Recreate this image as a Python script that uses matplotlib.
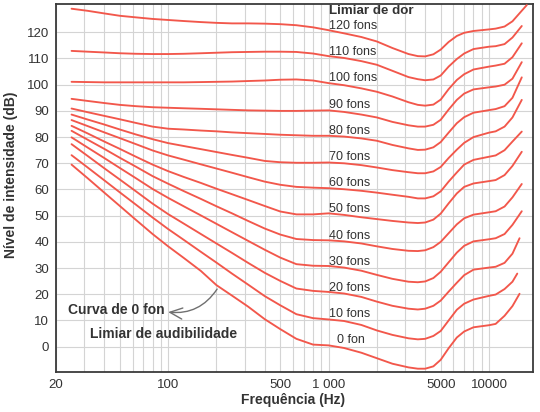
import matplotlib
matplotlib.use("Agg")
import matplotlib.pyplot as plt
from matplotlib import font_manager
from matplotlib.ticker import FixedLocator, NullFormatter

# equal loudness contours
FREQ = [25, 31.5, 40, 50, 63, 80, 100, 125, 160, 200, 250, 315, 400, 500,
        630, 800, 1000, 1250, 1600, 2000, 2500, 3150, 3600, 4000, 4500, 5000,
        5600, 6300, 7000, 8000, 10000, 11000, 12500, 14000]

PHONS = [0, 10, 20, 30, 40, 50, 60, 70, 80, 90, 100, 110, 120]

# last point of every curve (Hz), curves end at slightly different places
END_HZ = [15500, 15000, 15500, 16000, 16000, 16000, 16000, 16000, 16000,
          16000, 16000, 16000, 17200]

fon_0 = [69.5, 64.3, 58.8, 53.7, 48.4, 43.0, 38.3, 33.9, 28.9, 23.5, 19.5, 15.3,
         10.5, 6.7, 3.0, 0.8, 0.5, -0.5, -2.3, -4.4, -6.5, -7.9, -8.4, -8.4,
         -7.5, -5.0, -0.6, 3.5, 5.8, 7.4, 8.2, 8.7, 11.8, 15.5, 20.2]
fon_10 = [73.1, 68.4, 63.5, 58.9, 54.2, 49.3, 44.9, 40.8, 36.2, 32.1, 27.9, 23.7,
          19.3, 15.8, 12.4, 10.9, 10.4, 9.8, 8.3, 6.2, 4.5, 3.2, 2.8, 3.0,
          4.1, 6.0, 10.0, 14.1, 16.4, 18.0, 19.4, 19.9, 22.0, 24.8, 27.9]
fon_20 = [77.3, 72.8, 68.1, 63.8, 59.3, 54.6, 50.6, 47.0, 43.0, 39.4, 35.8, 32.0,
          28.2, 25.1, 22.2, 21.3, 20.9, 20.3, 19.0, 17.2, 15.6, 14.5, 14.2, 14.5,
          15.6, 17.6, 21.0, 24.4, 27.3, 29.4, 30.2, 30.5, 32.0, 35.5, 41.4]
fon_30 = [79.9, 76.0, 72.0, 68.2, 64.3, 60.2, 56.8, 53.6, 50.1, 46.9, 43.7, 40.4,
          37.0, 34.0, 31.5, 30.9, 30.8, 30.2, 29.0, 27.4, 25.9, 24.8, 24.6, 24.9,
          26.2, 28.6, 32.2, 35.9, 38.5, 40.2, 41.0, 41.4, 43.0, 46.5, 51.7]
fon_40 = [82.4, 79.0, 75.5, 72.1, 68.7, 65.1, 62.2, 59.4, 56.4, 53.6, 50.9, 48.0,
          45.1, 42.8, 41.1, 40.7, 40.6, 40.2, 39.4, 38.3, 37.3, 36.6, 36.5, 36.8,
          38.0, 40.0, 43.3, 46.7, 49.0, 50.4, 51.3, 51.7, 53.5, 57.0, 62.1]
fon_50 = [84.3, 81.4, 78.3, 75.5, 72.5, 69.5, 67.0, 64.8, 62.5, 60.3, 58.2, 56.0,
          53.7, 51.6, 50.5, 50.5, 50.9, 50.3, 49.4, 48.7, 48.0, 47.4, 47.2, 47.4,
          48.5, 50.8, 54.7, 58.5, 61.0, 62.3, 63.2, 63.6, 65.5, 69.0, 74.4]
fon_60 = [86.5, 84.2, 81.8, 79.6, 77.3, 74.9, 73.0, 71.4, 69.6, 68.0, 66.4, 64.7,
          63.0, 61.8, 61.0, 60.7, 60.5, 60.1, 59.5, 58.8, 58.0, 57.2, 56.6, 56.6,
          57.4, 59.3, 63.0, 66.5, 69.5, 71.3, 72.5, 73.0, 75.0, 78.3, 82.1]
fon_70 = [88.6, 86.7, 84.8, 82.9, 81.0, 79.2, 77.7, 76.6, 75.4, 74.3, 73.2, 72.1,
          70.9, 70.4, 70.2, 70.2, 70.3, 70.0, 69.3, 68.4, 67.4, 66.6, 66.2, 66.2,
          66.9, 68.6, 72.0, 75.2, 77.8, 80.0, 81.7, 82.2, 84.0, 87.5, 94.2]
fon_80 = [90.9, 89.5, 88.1, 86.8, 85.4, 84.0, 83.2, 82.9, 82.5, 82.2, 81.8, 81.5,
          81.2, 80.9, 80.7, 80.5, 80.5, 80.2, 79.5, 78.6, 77.0, 75.7, 75.1, 75.2,
          76.1, 78.1, 81.7, 85.3, 87.6, 89.3, 90.3, 90.7, 91.8, 95.0, 102.8]
fon_90 = [94.6, 93.8, 93.0, 92.3, 91.8, 91.4, 91.2, 91.0, 90.8, 90.6, 90.4, 90.2,
          90.1, 90.0, 90.0, 90.1, 90.2, 89.6, 88.6, 87.5, 85.8, 84.5, 84.0, 84.0,
          84.7, 86.6, 90.5, 94.2, 96.6, 98.2, 99.0, 99.3, 100.0, 102.3, 108.6]
fon_100 = [101.1, 101.0, 100.9, 100.9, 100.9, 100.9, 100.9, 100.9, 101.0, 101.1,
           101.2, 101.4, 101.6, 101.9, 102.0, 101.6, 100.6, 99.8, 98.6, 97.3, 95.5,
           93.3, 92.3, 92.0, 92.4, 94.3, 98.3, 101.8, 104.0, 105.8, 106.9, 107.3,
           108.0, 110.5, 115.8]
fon_110 = [112.9, 112.6, 112.3, 112.0, 111.8, 111.7, 111.7, 111.8, 112.0, 112.2,
           112.4, 112.5, 112.6, 112.6, 112.5, 111.9, 110.9, 110.2, 109.0, 107.6,
           105.3, 102.9, 102.1, 101.7, 102.0, 103.5, 106.9, 109.8, 111.9, 113.6,
           114.5, 114.7, 115.5, 118.0, 122.4]
fon_120 = [129.0, 128.2, 127.2, 126.3, 125.7, 125.1, 124.7, 124.3, 123.9, 123.6,
           123.4, 123.4, 123.3, 123.1, 122.7, 121.9, 120.8, 119.6, 118.2, 116.5,
           114.0, 111.7, 110.9, 110.8, 111.6, 113.4, 116.3, 118.6, 119.8, 120.5,
           121.1, 121.4, 122.2, 124.2, 130.4]

CURVES = [fon_0, fon_10, fon_20, fon_30, fon_40, fon_50, fon_60, fon_70,
          fon_80, fon_90, fon_100, fon_110, fon_120]

XTICKS = [20, 100, 500, 1000, 5000, 10000]
XTICK_LABELS = ["20", "100", "500", "1 000", "5000", "10000"]
YTICKS = list(range(0, 130, 10))

RED = "#f2574b"
INK = "#333333"

installed = {f.name for f in font_manager.fontManager.ttflist}
BASE = "Liberation Sans" if "Liberation Sans" in installed else "DejaVu Sans"
NARROW = "Liberation Sans Narrow" if "Liberation Sans Narrow" in installed else BASE
plt.rcParams["font.family"] = [BASE, "DejaVu Sans"]

W, H = 540, 412
fig = plt.figure(figsize=(W / 100, H / 100), dpi=100)
ax = fig.add_axes([56 / W, 1 - 372 / H, (533 - 56) / W, (372 - 4) / H])

for phon, values, end in zip(PHONS, CURVES, END_HZ):
    ax.plot(FREQ + [end], values, color=RED, lw=1.35, solid_capstyle="round",
            solid_joinstyle="round", zorder=3)

ax.set_xscale("log")
ax.set_xlim(20, 18800)
ax.set_ylim(-9.66, 130.8)

grid_x = [m * 10 ** e for e in (1, 2, 3) for m in range(1, 10)] + [10000]
grid_x = [g for g in grid_x if g >= 20]
ax.xaxis.set_minor_locator(FixedLocator(grid_x))
ax.xaxis.set_minor_formatter(NullFormatter())
ax.set_xticks(XTICKS, XTICK_LABELS)
ax.set_yticks(YTICKS)
ax.grid(True, which="both", color="#d4d4d4", lw=0.8, zorder=0)
ax.tick_params(which="both", length=0, labelsize=9.5, labelcolor=INK)
ax.tick_params(axis="x", pad=5)
ax.tick_params(axis="y", pad=5)

for s in ax.spines.values():
    s.set_color("#3a3a3a")
    s.set_linewidth(1.3)

# curve labels
fons_size = 9.8 if NARROW != BASE else 9.0
for phon in PHONS:
    name = "0 fon" if phon == 0 else f"{phon} fons"
    xpos = 1130 if phon == 0 else 1010
    ax.text(xpos, phon + 2.4, name, ha="left", va="center", fontsize=fons_size,
            family=[NARROW, "DejaVu Sans"], color=INK, zorder=4)

ax.text(1010, 128.0, "Limiar de dor", ha="left", va="center", fontsize=9.6,
        fontweight="bold", color=INK, zorder=4)
ax.text(23.8, 14.0, "Curva de 0 fon", ha="left", va="center", fontsize=10,
        fontweight="bold", color=INK, zorder=4)
ax.text(32.6, 4.7, "Limiar de audibilidade", ha="left", va="center",
        fontsize=10, fontweight="bold", color=INK, zorder=4)

ax.annotate("", xy=(100, 13.2), xytext=(202, 22.0),
            arrowprops=dict(arrowstyle="->,head_length=0.9,head_width=0.4",
                            color="#707070", lw=1.0, shrinkA=0, shrinkB=0,
                            connectionstyle="arc3,rad=-0.3"), zorder=4)

fig.text(293 / W, 1 - 400 / H, "Frequência (Hz)", ha="center", va="center",
         fontsize=10, fontweight="bold", color=INK)
fig.text(11 / W, 1 - 175 / H, "Nível de intensidade (dB)", ha="center",
         va="center", rotation=90, fontsize=10, fontweight="bold", color=INK)

fig.savefig("out.png", dpi=100, facecolor="white")
